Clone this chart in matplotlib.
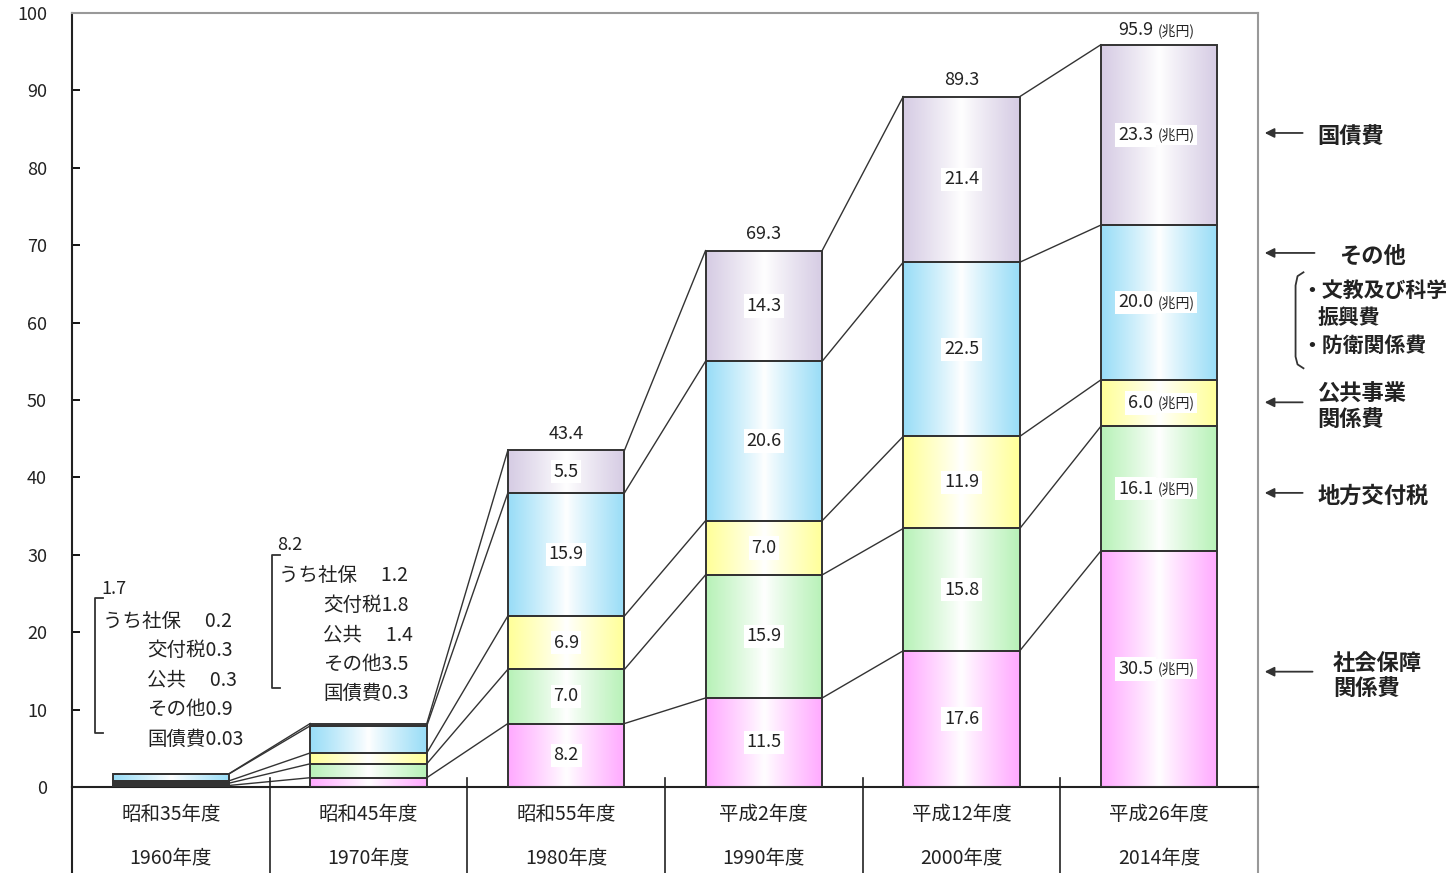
import numpy as np
import matplotlib
matplotlib.use('Agg')
import matplotlib.pyplot as plt
from matplotlib.colors import to_rgb

plt.rcParams['font.family'] = ['Noto Sans CJK JP', 'DejaVu Sans']

# data (兆円)
wareki = ['昭和35年度', '昭和45年度', '昭和55年度', '平成2年度', '平成12年度', '平成26年度']
seireki = ['1960年度', '1970年度', '1980年度', '1990年度', '2000年度', '2014年度']
totals = [1.7, 8.2, 43.4, 69.3, 89.3, 95.9]

shaho = [0.2, 1.2, 8.2, 11.5, 17.6, 30.5]      # 社会保障関係費
kofuzei = [0.3, 1.8, 7.0, 15.9, 15.8, 16.1]    # 地方交付税
kokyo = [0.3, 1.4, 6.9, 7.0, 11.9, 6.0]        # 公共事業関係費
sonota = [0.9, 3.5, 15.9, 20.6, 22.5, 20.0]    # その他
kokusai = [0.03, 0.3, 5.5, 14.3, 21.4, 23.3]   # 国債費

series = [shaho, kofuzei, kokyo, sonota, kokusai]
colors = ['#FFAAFF', '#B8F2B8', '#FFFF99', '#99DDF7', '#D6CCE4']
small_names = ['うち社保　 ', '交付税', '公共　 ', 'その他', '国債費']

TXT = '#222222'
EDGE = '#333333'


def gradient(color, n=64):
    c = np.array(to_rgb(color))
    t = np.abs(np.linspace(-1, 1, n)) ** 0.9
    img = 1 - (1 - c)[None, :] * t[:, None]
    return img[None, :, :]


def label_with_unit(xv, yv, num, va, box=None):
    # number followed by a smaller "(兆円)"
    t = ax.text(xv, yv, num, ha='right', va=va, fontsize=13, color=TXT,
                zorder=6, bbox=box)
    ax.annotate('(兆円)', xy=(1, 0.5), xycoords=t, xytext=(3, 0),
                textcoords='offset points', ha='left', va='center',
                fontsize=10, color=TXT, zorder=5, bbox=box)


fig = plt.figure(figsize=(14.47, 8.73), dpi=100)
ax = fig.add_axes([72 / 1447, 86 / 873, 1186 / 1447, 774 / 873])

x = np.arange(len(wareki))
w = 0.59

# stacked bars with a left-white-right gradient fill
bottom = np.zeros(len(x))
levels = []
for vals, col in zip(series, colors):
    bars = ax.bar(x, vals, w, bottom=bottom, facecolor='none',
                  edgecolor=EDGE, linewidth=1.4, zorder=3)
    for p in bars:
        x0, y0 = p.get_x(), p.get_y()
        im = ax.imshow(gradient(col), extent=[x0, x0 + p.get_width(), y0, y0 + p.get_height()],
                       aspect='auto', interpolation='bilinear', zorder=2)
        im.set_clip_path(p)
    bottom = bottom + np.array(vals)
    levels.append(bottom.copy())

# lines joining the segment tops of neighbouring bars
for lv in levels:
    for i in range(len(x) - 1):
        ax.plot([x[i] + w / 2, x[i + 1] - w / 2], [lv[i], lv[i + 1]],
                color=EDGE, lw=1.0, zorder=1)

# value labels inside the bars
for i in range(2, len(x)):
    base = 0
    for vals in series:
        v = vals[i]
        yc = base + v / 2
        base += v
        box = dict(facecolor='white', edgecolor='none', pad=2)
        if i == len(x) - 1:
            label_with_unit(x[i] - 0.03, yc, f'{v:.1f}', 'center', box)
        else:
            ax.text(x[i], yc, f'{v:.1f}', ha='center', va='center',
                    fontsize=13, color=TXT, zorder=5, bbox=box)

# totals on top
for i in range(2, len(x)):
    top = levels[-1][i]
    if i == len(x) - 1:
        label_with_unit(x[i] - 0.03, top + 0.7, f'{totals[i]:.1f}', 'bottom')
    else:
        ax.text(x[i], top + 1.0, f'{totals[i]:.1f}', ha='center', va='bottom',
                fontsize=13, color=TXT)


# breakdown notes for the two small bars
def bracket(xb, ytop, ybot, hook=0.04):
    ax.plot([xb + hook, xb, xb, xb + hook], [ytop, ytop, ybot, ybot],
            color=EDGE, lw=1.3, clip_on=False)


for i, (xb, xt, xi, ytot, ytop, ybot, y1) in enumerate([
        (-0.384, -0.343, -0.121, 25.6, 24.4, 7.0, 21.4),
        (0.512, 0.547, 0.770, 31.3, 30.0, 12.8, 27.3)]):
    bracket(xb, ytop, ybot)
    ax.text(xt - 0.01, ytot, f'{totals[i]:g}', ha='left', va='center', fontsize=13, color=TXT)
    for k, (name, vals) in enumerate(zip(small_names, series)):
        xx = xt if k == 0 else xi
        ax.text(xx, y1 - k * 3.8, f'{name}{vals[i]:g}', ha='left', va='center',
                fontsize=14, color=TXT)

# right-hand legend with arrows
arrow = dict(arrowstyle='-|>', color=EDGE, lw=1.3, mutation_scale=14)
right_notes = [
    ('国債費', 5.80, 84.0, 'left', 84.5, 5.74),
    ('その他', 6.08, 68.5, 'center', 69.0, 5.80),
    ('公共事業\n関係費', 5.80, 49.1, 'left', 49.7, 5.74),
    ('地方交付税', 5.80, 37.5, 'left', 38.0, 5.74),
    ('社会保障\n関係費', 5.88, 14.3, 'left', 14.9, 5.79),
]
for label, tx, ty, ha, ay, ax0 in right_notes:
    ax.annotate('', xy=(5.52, ay), xytext=(ax0, ay), arrowprops=arrow,
                annotation_clip=False)
    ax.text(tx, ty, label, ha=ha, va='center', fontsize=16, fontweight='bold',
            color=TXT, linespacing=1.1, clip_on=False)

# 「その他」の内訳
px = 5.69
ax.plot([px + 0.04, px + 0.01, px, px, px + 0.01, px + 0.04],
        [66.5, 66.0, 64.8, 55.6, 54.6, 54.1], color=EDGE, lw=1.3, clip_on=False)
ax.text(5.72, 64.1, '・文教及び科学', ha='left', va='center', fontsize=15,
        fontweight='bold', color=TXT)
ax.text(5.80, 60.6, '振興費', ha='left', va='center', fontsize=15,
        fontweight='bold', color=TXT)
ax.text(5.72, 57.0, '・防衛関係費', ha='left', va='center', fontsize=15,
        fontweight='bold', color=TXT)

# axes styling
ax.set_xlim(-0.5, 5.5)
ax.set_ylim(0, 100)
ax.set_xticks([])
ax.set_yticks(np.arange(0, 101, 10))
ax.tick_params(axis='y', direction='in', length=6, width=1.3, pad=18,
               labelsize=13, labelcolor=TXT)
for s in ['left', 'bottom']:
    ax.spines[s].set_color('#222222')
    ax.spines[s].set_linewidth(1.5)
for s in ['top', 'right']:
    ax.spines[s].set_color('#999999')
    ax.spines[s].set_linewidth(1.5)

# category table under the plot
tr = ax.get_xaxis_transform()
ax.plot([-0.5, -0.5], [0, -0.12], color='#222222', lw=1.5, transform=tr, clip_on=False)
ax.plot([5.5, 5.5], [0, -0.12], color='#999999', lw=1.5, transform=tr, clip_on=False)
for b in np.arange(0.5, 5, 1):
    ax.plot([b, b], [0.012, -0.12], color='#222222', lw=1.2, transform=tr, clip_on=False)
for i in range(len(x)):
    ax.text(x[i], -0.036, wareki[i], ha='center', va='center', fontsize=14,
            color=TXT, transform=tr)
    ax.text(x[i], -0.092, seireki[i], ha='center', va='center', fontsize=14,
            color=TXT, transform=tr)

fig.savefig('out.png', dpi=100)
